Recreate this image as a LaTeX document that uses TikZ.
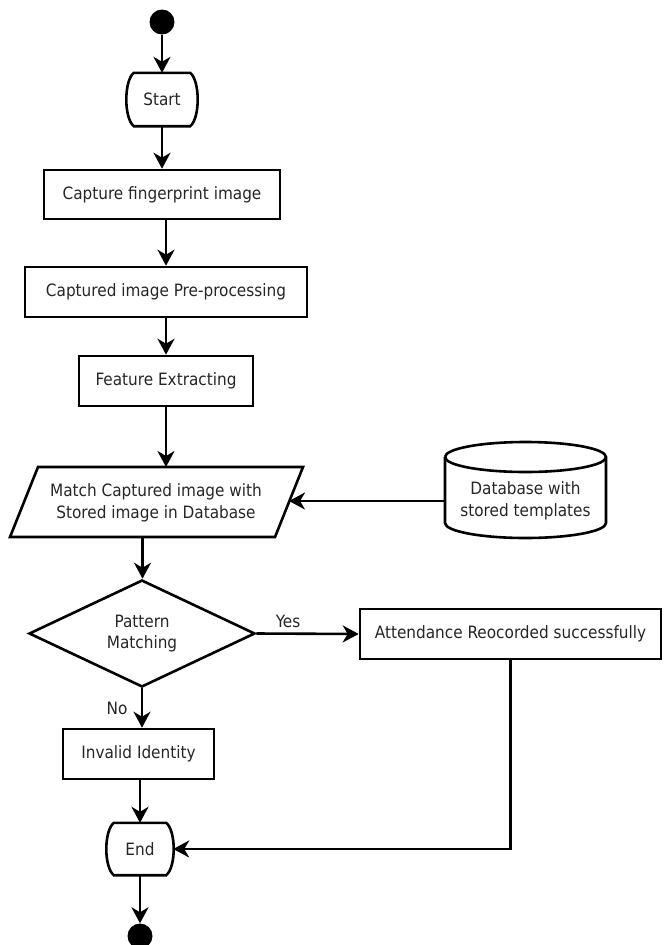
\documentclass[tikz,border=0pt]{standalone}
\usepackage{fontspec}
\setmainfont{DejaVuSansCondensed.ttf}
\usetikzlibrary{arrows.meta,shapes.geometric,calc}
\definecolor{txt}{HTML}{262626}
\begin{document}
\begin{tikzpicture}[x=1pt,y=-1pt,
  every node/.style={font=\fontsize{17}{21.5}\selectfont, text=txt},
  box/.style={draw=black, line width=2.6pt, rectangle, inner sep=0pt},
  lbl/.style={inner sep=0pt, anchor=base},
  dot/.style={circle, fill=black, draw=none, minimum size=25pt, inner sep=0pt},
  outl/.style={draw=black, line width=2.6pt},
  arr/.style={draw=black, line width=2.6pt, -{Stealth[length=16pt,width=17pt,inset=5pt]}},
  term/.style={draw=none, rectangle, inner sep=0pt}
]
\useasboundingbox (0,0) rectangle (664,945);

% start dot and terminal
\node[dot] (d1) at (162,22) {};
\node[term, minimum width=70pt, minimum height=53pt] (st) at (162,99.5) {Start};
\draw[outl] ($(st.north west)+(7pt,0pt)$) -- ($(st.north east)+(-7pt,0pt)$)
  .. controls ($(st.north east)+(3pt,-8pt)$) and ($(st.south east)+(3pt,8pt)$) .. ($(st.south east)+(-7pt,0pt)$)
  -- ($(st.south west)+(7pt,0pt)$)
  .. controls ($(st.south west)+(-3pt,8pt)$) and ($(st.north west)+(-3pt,-8pt)$) .. cycle;

% process boxes
\node[box, minimum width=236pt, minimum height=49pt] (cap) at (162,194.5) {Capture fingerprint image};
\node[box, minimum width=282pt, minimum height=50pt] (pre) at (166,292) {Captured image Pre-processing};
\node[box, minimum width=174pt, minimum height=50pt] (feat) at (166,381) {Feature Extracting};

% parallelogram
\coordinate (m1) at (38,467);
\coordinate (m2) at (303,467);
\coordinate (m3) at (275,537);
\coordinate (m4) at (10,537);
\coordinate (mtop) at ($(m1)!0.5!(m2)$);
\coordinate (mbot) at ($(m4)!0.5!(m3)$);
\coordinate (mright) at ($(m2)!0.5!(m3)$);
\draw[outl] (m1) -- (m2) -- (m3) -- (m4) -- cycle;
\node[align=center, inner sep=0pt] (match) at (156,503) {Match Captured image with\\Stored image in Database};

% database cylinder
\draw[outl] (445,457) -- (445,523) arc[start angle=180,end angle=360,x radius=80.5pt,y radius=15pt]
  -- (606,457) arc[start angle=0,end angle=180,x radius=80.5pt,y radius=15pt];
\draw[outl] (445,457) arc[start angle=180,end angle=360,x radius=80.5pt,y radius=15pt];
\node[align=center, inner sep=0pt, minimum width=161pt] (db) at (525.5,501) {Database with\\stored templates};

% decision
\node[diamond, draw=black, line width=2.6pt, minimum width=226pt, minimum height=107pt, inner sep=0pt, aspect=2.1, align=center] (pm) at (142,633.5) {Pattern\\Matching};

\node[box, minimum width=301pt, minimum height=50pt] (att) at (510.5,634) {Attendance Reocorded successfully};
\node[box, minimum width=151pt, minimum height=50pt] (inv) at (138.5,754) {Invalid Identity};

% end terminal and dot
\node[term, minimum width=66pt, minimum height=52pt] (en) at (140,849) {End};
\draw[outl] ($(en.north west)+(7pt,0pt)$) -- ($(en.north east)+(-7pt,0pt)$)
  .. controls ($(en.north east)+(3pt,-8pt)$) and ($(en.south east)+(3pt,8pt)$) .. ($(en.south east)+(-7pt,0pt)$)
  -- ($(en.south west)+(7pt,0pt)$)
  .. controls ($(en.south west)+(-3pt,8pt)$) and ($(en.north west)+(-3pt,-8pt)$) .. cycle;
\node[dot] (d2) at (140,936) {};

% labels
\node[lbl] (yes) at (288,627) {Yes};
\node[lbl] (no) at (117,714) {No};

% connectors
\draw[arr] (d1) -- (st.north);
\draw[arr] (st.south) -- (cap.north);
\draw[arr] (cap.south -| pre.north) -- (pre.north);
\draw[arr] (pre.south) -- (feat.north);
\draw[arr] (feat.south) -- (feat.south |- mtop);
\draw[arr] (db.west) -- (db.west -| mright);
\draw[arr] (mbot) -- (mbot |- pm.north);
\draw[arr] (pm.east) -- (att.west);
\draw[arr] (pm.south) -- (pm.south |- inv.north);
\draw[arr] (inv.south -| en.north) -- (en.north);
\draw[arr] (att.south) |- (en.east);
\draw[arr] (en.south) -- (d2.north);
\end{tikzpicture}
\end{document}
